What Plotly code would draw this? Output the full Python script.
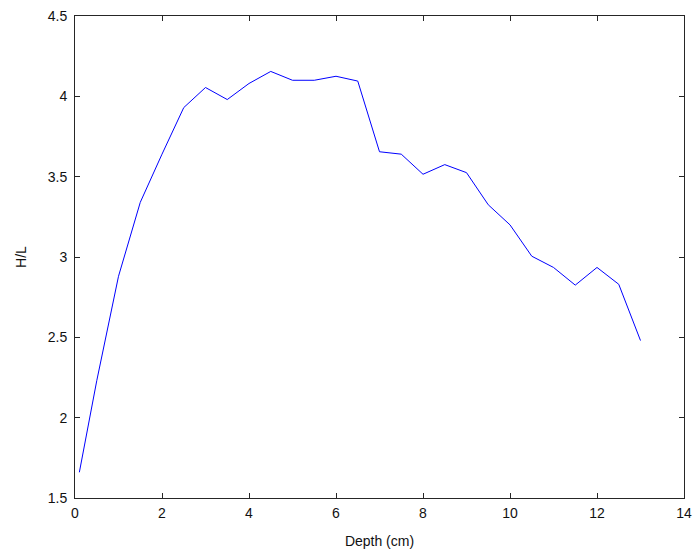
import plotly.graph_objects as go

depth = [0.1, 0.5, 1, 1.5, 2, 2.5, 3, 3.5, 4, 4.5, 5, 5.5, 6, 6.5, 7, 7.5,
         8, 8.5, 9, 9.5, 10, 10.5, 11, 11.5, 12, 12.5, 13]
hl = [1.66, 2.23, 2.88, 3.34, 3.64, 3.93, 4.055, 3.98, 4.08, 4.155, 4.10, 4.10,
      4.125, 4.095, 3.655, 3.64, 3.515, 3.575, 3.525, 3.325, 3.20, 3.005, 2.935,
      2.825, 2.935, 2.83, 2.48]

x_ticks = [0, 2, 4, 6, 8, 10, 12, 14]
x_tick_labels = ["0", "2", "4", "6", "8", "10", "12", "14"]
y_ticks = [1.5, 2, 2.5, 3, 3.5, 4, 4.5]
y_tick_labels = ["1.5", "2", "2.5", "3", "3.5", "4", "4.5"]

FONT = dict(family="Liberation Sans, Arial", size=14, color="#111")

fig = go.Figure()
fig.add_trace(go.Scatter(x=depth, y=hl, mode="lines",
                         line=dict(color="#0000ff", width=1)))

axis_common = dict(
    showgrid=False, zeroline=False, showline=True, linecolor="#262626",
    linewidth=1, mirror="ticks", ticks="inside", ticklen=5, tickwidth=1,
    tickcolor="#262626", tickfont=FONT, automargin=False,
    ticklabeloverflow="allow",
)

fig.update_layout(
    width=693, height=552,
    margin=dict(l=75, r=9, t=16, b=54),
    paper_bgcolor="white", plot_bgcolor="white",
    showlegend=False,
    xaxis=dict(range=[0, 14], tickvals=x_ticks, ticktext=x_tick_labels,
               ticklabelstandoff=2,
               title=dict(text="Depth (cm)", standoff=16, font=FONT),
               **axis_common),
    yaxis=dict(range=[1.5, 4.5], tickvals=y_ticks, ticktext=y_tick_labels,
               ticklabelstandoff=4,
               title=dict(text="H/L", standoff=17, font=FONT),
               **axis_common),
)

# remove the default 8px page margin so the 693x552 figure fills the window
fig.write_html("out.html",
               config={"displayModeBar": False},
               post_script="document.body.style.margin='0';document.body.style.overflow='hidden';")
